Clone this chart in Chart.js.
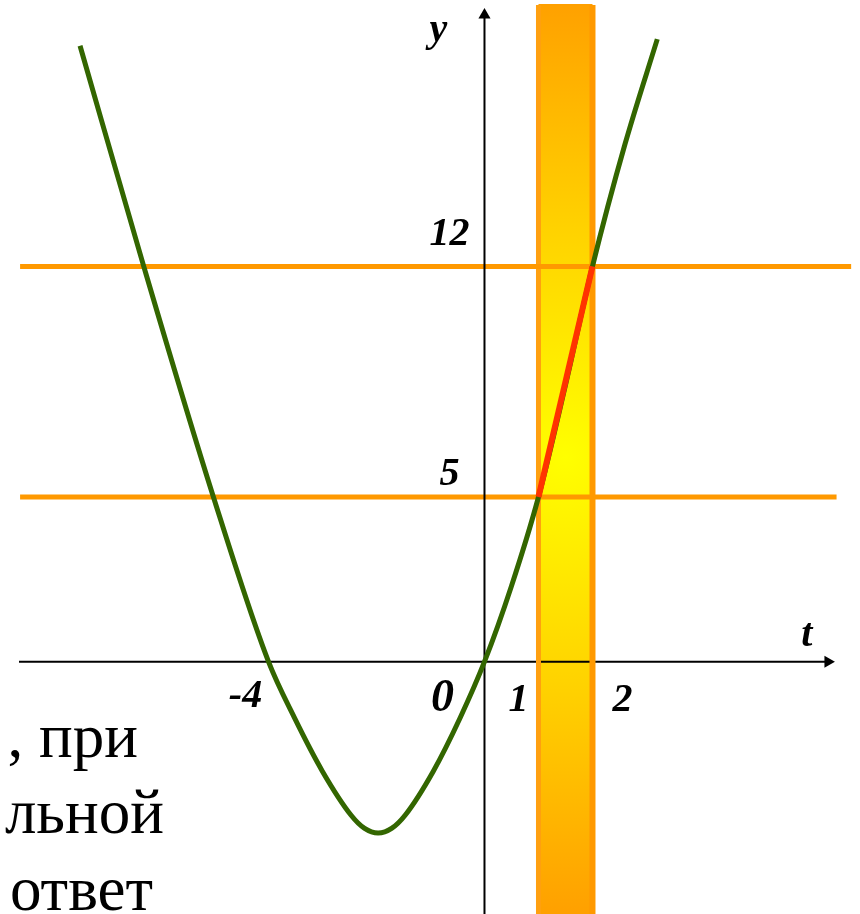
<!DOCTYPE html>
<html>
<head>
<meta charset="utf-8">
<script src="https://cdn.jsdelivr.net/npm/chart.js@4.4.1/dist/chart.umd.min.js"></script>
<style>
  html, body { margin: 0; padding: 0; background: #fff; }
  #wrap { width: 860px; height: 914px; position: relative; }
</style>
</head>
<body>
<div id="wrap"><canvas id="chart"></canvas></div>
<script>
// parabola as it is drawn on the slide (t, y), read point by point
const curveT = [-7.49, -6.31, -5.02, -4.00, -3.52, -3.00, -2.47, -2.22, -1.97, -1.72,
                -1.47, -0.95, -0.45, 0.00, 0.50, 1.00, 1.50, 2.00, 2.60, 3.20];
const curveY = [18.7, 12.0, 5.0, 0.0, -1.7, -3.33, -4.66, -5.06, -5.2, -5.06,
                -4.66, -3.33, -1.7, 0.0, 2.3, 5.0, 8.4, 12.0, 15.7, 18.9];

// red piece of the curve between the two levels
const segT = [1, 2];
const segY = [5, 12];

// horizontal levels y = 5 and y = 12
const levels = [5, 12];
const levelLabels = ['5', '12'];
const levelFrom = -8.6;
const levelTo = [6.52, 6.79];

// vertical band 1 <= t <= 2
const bandT = [1, 2];
const bandTop = 19.94;

// axes (data extents, arrow at the end)
const xAxisT = [-8.62, 6.36];
const yAxisY = [-7.8, 19.63];

const tickT = [-4, 0, 1, 2];
const tickLabels = ['-4', '0', '1', '2'];

// slide text cut off behind the chart
const textLines = [', при', 'льной', 'ответ'];

const ORANGE = '#FF9900';
const BOLD = 'italic bold 40px "Liberation Serif"';

function pts(xs, ys) {
  return xs.map((v, i) => ({ x: v, y: ys[i] }));
}

function bandGradient(context) {
  const chart = context.chart;
  const { ctx, chartArea, scales } = chart;
  if (!chartArea) return '#FFC800';
  const cx = scales.x.getPixelForValue((bandT[0] + bandT[1]) / 2);
  const cy = (chartArea.top + chartArea.bottom) / 2;
  const g = ctx.createRadialGradient(cx, cy, 0, cx, cy, chartArea.height / 2);
  g.addColorStop(0, '#FFFF00');
  g.addColorStop(0.5, '#FFD200');
  g.addColorStop(1, '#FFA000');
  return g;
}

const textPlugin = {
  id: 'slideText',
  beforeDatasetsDraw(chart) {
    const { ctx } = chart;
    ctx.save();
    ctx.fillStyle = '#000';
    ctx.font = '63px "Liberation Serif"';
    ctx.textAlign = 'right';
    ctx.textBaseline = 'alphabetic';
    const rightEdge = [138, 164, 153];
    const baseline = [757, 833, 910];
    textLines.forEach((s, i) => ctx.fillText(s, rightEdge[i], baseline[i]));
    ctx.restore();
  },
  afterDatasetsDraw(chart) {
    const { ctx, scales: { x, y } } = chart;
    ctx.save();
    ctx.fillStyle = '#000';
    ctx.font = BOLD;
    ctx.textAlign = 'center';
    ctx.textBaseline = 'alphabetic';
    const x0 = x.getPixelForValue(0);
    const y0 = y.getPixelForValue(0);
    const tickDx = [-23, -42, -20, 30];
    const tickDy = [45, 49, 49, 49];
    tickT.forEach((t, i) => {
      ctx.font = tickLabels[i] === '0' ? 'italic bold 46px "Liberation Serif"' : BOLD;
      ctx.fillText(tickLabels[i], x.getPixelForValue(t) + tickDx[i], y0 + tickDy[i]);
    });
    ctx.font = BOLD;
    const levelDy = [-12, -21];
    levels.forEach((v, i) => {
      ctx.fillText(levelLabels[i], x0 - 35, y.getPixelForValue(v) + levelDy[i]);
    });
    // axis names
    ctx.fillText('y', x0 - 46, y.getPixelForValue(yAxisY[1]) + 26);
    ctx.fillText('t', x.getPixelForValue(xAxisT[1]) - 21, y0 - 16);
    ctx.restore();
  }
};

const ctx = document.getElementById('chart').getContext('2d');

new Chart(ctx, {
  type: 'scatter',
  data: {
    datasets: [
      {
        // band fill
        data: pts(bandT, [bandTop, bandTop]),
        showLine: true,
        fill: 'start',
        backgroundColor: bandGradient,
        borderColor: '#FFA000',
        borderWidth: 2,
        pointRadius: 0,
        order: 9
      },
      {
        // t axis
        data: pts(xAxisT, [0, 0]),
        showLine: true,
        borderColor: '#000',
        borderWidth: 2,
        pointRadius: [0, 7],
        pointStyle: 'triangle',
        pointRotation: 90,
        pointBackgroundColor: '#000',
        pointBorderColor: '#000',
        pointBorderWidth: 0,
        order: 8
      },
      {
        data: pts([bandT[0], bandT[0]], [yAxisY[0], bandTop]),
        showLine: true,
        borderColor: '#FFA010',
        borderWidth: 5,
        pointRadius: 0,
        order: 7
      },
      {
        data: pts([bandT[1], bandT[1]], [yAxisY[0], bandTop]),
        showLine: true,
        borderColor: ORANGE,
        borderWidth: 6,
        pointRadius: 0,
        order: 7
      },
      {
        data: pts([levelFrom, levelTo[0]], [levels[0], levels[0]]),
        showLine: true,
        borderColor: ORANGE,
        borderWidth: 5,
        pointRadius: 0,
        order: 6
      },
      {
        data: pts([levelFrom, levelTo[1]], [levels[1], levels[1]]),
        showLine: true,
        borderColor: ORANGE,
        borderWidth: 5,
        pointRadius: 0,
        order: 6
      },
      {
        // y axis
        data: pts([0, 0], yAxisY),
        showLine: true,
        borderColor: '#000',
        borderWidth: 2,
        pointRadius: [0, 7],
        pointStyle: 'triangle',
        pointRotation: 0,
        pointBackgroundColor: '#000',
        pointBorderColor: '#000',
        pointBorderWidth: 0,
        order: 5
      },
      {
        // the parabola
        data: pts(curveT, curveY),
        showLine: true,
        borderColor: '#336600',
        borderWidth: 5,
        cubicInterpolationMode: 'monotone',
        pointRadius: 0,
        order: 2
      },
      {
        data: pts(segT, segY),
        showLine: true,
        borderColor: '#FF3300',
        borderWidth: 6,
        borderCapStyle: 'butt',
        pointRadius: 0,
        order: 1
      }
    ]
  },
  options: {
    responsive: true,
    maintainAspectRatio: false,
    animation: false,
    events: [],
    layout: { padding: 0, autoPadding: false },
    plugins: {
      legend: { display: false },
      tooltip: { enabled: false }
    },
    scales: {
      x: { type: 'linear', min: -8.972, max: 6.954, display: false },
      y: { type: 'linear', min: -7.659, max: 20.088, display: false }
    }
  },
  plugins: [textPlugin]
});
</script>
</body>
</html>
